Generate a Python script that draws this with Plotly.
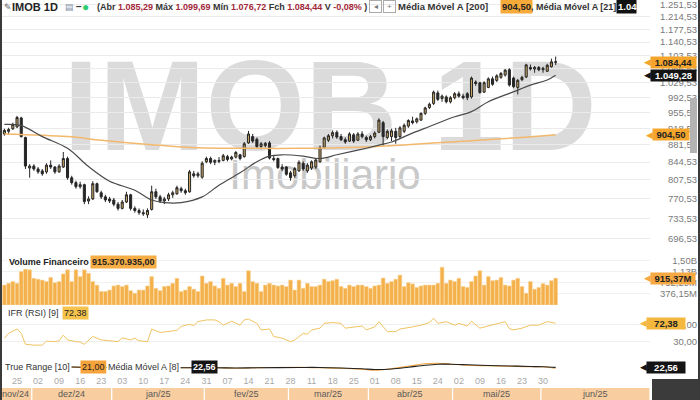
import math
import plotly.graph_objects as go

# ---------------- data ----------------
opens = [906, 912, 918, 922, 943, 898, 832, 836, 830, 826, 824, 838, 834, 824, 834, 852, 812, 802, 794, 798,
         766, 770, 800, 782, 774, 770, 768, 760, 752, 764, 778, 752, 748, 744, 740, 750, 784, 774, 766, 770,
         778, 780, 790, 786, 784, 820, 816, 813, 845, 852, 844, 848, 848, 856, 851, 855, 860, 856, 886, 900,
         894, 878, 880, 886, 852, 852, 834, 834, 822, 816, 826, 842, 826, 832, 834, 845, 876, 892, 902, 910,
         900, 893, 890, 904, 892, 906, 898, 893, 900, 910, 932, 898, 900, 912, 900, 912, 924, 936, 934, 938,
         954, 968, 978, 1004, 990, 994, 982, 992, 1002, 996, 1002, 994, 1032, 1030, 1006, 1018, 1040, 1036, 1044, 1050,
         1064, 1042, 1018, 1038, 1045, 1070, 1066, 1070, 1064, 1060, 1072, 1085.29]
highs = [918, 920, 932, 948, 946, 900, 840, 840, 834, 830, 842, 848, 836, 840, 866, 856, 816, 806, 804, 800,
         775, 805, 802, 786, 778, 774, 772, 764, 768, 784, 780, 756, 752, 750, 752, 796, 790, 778, 774, 782,
         786, 796, 794, 790, 828, 826, 824, 846, 856, 856, 850, 855, 862, 860, 858, 868, 862, 888, 913, 906,
         898, 888, 888, 890, 858, 854, 840, 836, 826, 834, 848, 846, 842, 848, 852, 880, 900, 906, 914, 914,
         906, 898, 910, 908, 910, 912, 902, 904, 912, 942, 936, 916, 918, 920, 924, 930, 940, 946, 944, 956,
         970, 980, 1010, 1010, 1000, 998, 996, 1006, 1008, 1002, 1006, 1046, 1036, 1032, 1034, 1044, 1046, 1052, 1058, 1066,
         1068, 1046, 1040, 1048, 1080, 1078, 1074, 1074, 1072, 1080, 1094, 1099.69]
lows = [902, 905, 915, 920, 898, 830, 812, 826, 820, 816, 820, 830, 820, 822, 832, 808, 798, 790, 790, 760,
        760, 768, 782, 770, 764, 762, 756, 748, 750, 762, 748, 744, 740, 738, 734, 748, 770, 762, 760, 766,
        772, 778, 782, 778, 782, 812, 812, 810, 842, 840, 838, 842, 846, 846, 848, 852, 848, 854, 884, 886,
        874, 872, 876, 850, 846, 830, 826, 816, 806, 812, 824, 826, 822, 828, 830, 843, 874, 888, 896, 895,
        890, 884, 888, 886, 890, 896, 888, 890, 896, 908, 880, 894, 890, 884, 896, 908, 920, 928, 930, 936,
        950, 964, 974, 984, 982, 978, 978, 988, 992, 988, 986, 990, 1022, 1002, 1004, 1016, 1022, 1032, 1040, 1046,
        1020, 1016, 1000, 1034, 1042, 1062, 1056, 1060, 1056, 1058, 1070, 1076.72]
closes = [914, 916, 928, 944, 900, 836, 836, 830, 824, 820, 838, 834, 824, 836, 852, 812, 802, 794, 798, 765,
          770, 800, 784, 774, 768, 766, 760, 752, 764, 778, 752, 748, 744, 742, 748, 784, 774, 766, 770, 778,
          782, 792, 786, 782, 824, 816, 820, 842, 852, 844, 848, 846, 858, 850, 855, 865, 852, 884, 906, 890,
          878, 884, 885, 853, 850, 833, 830, 819, 812, 831, 844, 830, 838, 845, 849, 876, 897, 902, 909, 899,
          893, 888, 906, 890, 906, 900, 893, 900, 908, 938, 900, 912, 913, 898, 920, 926, 937, 932, 941, 954,
          967, 976, 1006, 988, 996, 982, 992, 1002, 996, 992, 992, 1042, 1028, 1005, 1030, 1040, 1026, 1048, 1054, 1063,
          1024, 1020, 1036, 1044, 1077, 1066, 1070, 1064, 1068, 1076, 1085.3, 1084.44]

volume_bi = [0.68, 0.74, 0.80, 0.74, 1.14, 1.22, 1.20, 0.91, 0.88, 0.85,
             0.80, 0.94, 0.76, 0.80, 1.06, 1.20, 0.80, 1.20, 0.97, 1.20,
             1.08, 0.80, 0.68, 0.46, 0.46, 0.51, 0.65, 0.68, 0.63, 0.68,
             0.49, 0.40, 0.51, 0.51, 0.65, 0.97, 0.57, 0.49, 0.63, 0.65,
             0.74, 0.91, 0.46, 0.51, 0.63, 0.54, 0.46, 0.99, 0.74, 0.80,
             0.65, 0.57, 0.91, 0.68, 0.74, 0.63, 0.74, 0.46, 1.17, 0.80,
             0.74, 0.46, 0.68, 0.74, 0.68, 0.65, 0.68, 0.63, 0.85, 0.51,
             0.85, 0.57, 0.74, 0.63, 0.63, 0.68, 0.88, 0.80, 0.83, 0.88,
             0.63, 0.57, 0.68, 0.63, 0.68, 0.68, 0.63, 0.57, 0.65, 0.68,
             0.92, 0.74, 0.80, 0.88, 1.02, 0.63, 0.76, 0.72, 0.60, 0.65,
             0.68, 0.68, 0.68, 0.74, 1.29, 0.74, 0.85, 0.80, 0.91, 0.63,
             0.60, 0.80, 0.99, 1.17, 0.68, 0.97, 0.83, 0.85, 0.94, 0.68,
             0.65, 0.85, 0.91, 0.63, 0.40, 0.80, 0.54, 0.60, 0.73, 0.68,
             0.83, 0.915370935]

ma21_idx = [0, 4, 9, 15, 20, 25, 31, 35, 38, 42, 47, 51, 56, 60, 63, 66, 71, 75, 79, 84,
            89, 92, 96, 101, 107, 111, 115, 120, 122, 125, 129, 131]
ma21_val = [928, 925, 900, 874, 835, 805, 787, 768, 763, 763, 774, 797, 822, 845, 857, 860, 857, 852, 860, 870,
            881, 888, 904, 923, 946, 958, 982, 1003, 1011, 1024, 1037, 1049.28]

ma200_idx = [0, 15, 23, 35, 46, 58, 70, 82, 94, 106, 118, 131]
ma200_val = [906, 900, 892, 882, 875, 874, 874, 876, 881, 888, 895, 904.50]

rsi_idx = [0, 1, 3, 4, 5, 7, 9, 10, 12, 13, 14, 15, 17, 18, 19, 21, 23, 27, 28, 30,
           31, 32, 34, 35, 37, 39, 41, 42, 44, 45, 46, 48, 50, 51, 52, 54, 56, 57, 58, 60,
           61, 63, 64, 66, 68, 69, 71, 72, 73, 75, 76, 78, 80, 81, 83, 85, 86, 88, 89, 91,
           93, 94, 97, 99, 101, 102, 103, 105, 107, 108, 110, 111, 113, 115, 117, 119, 120, 121, 123, 125,
           127, 129, 131]
rsi_val = [38, 49, 59, 49, 24, 22, 22, 31, 30, 32, 45, 34, 30, 29, 24, 42, 34, 30, 39, 34,
           38, 32, 30, 59, 51, 53, 56, 65, 70, 67, 76, 80, 80, 76, 68, 77, 68, 80, 82, 72,
           57, 59, 42, 38, 30, 34, 49, 47, 57, 61, 72, 74, 72, 61, 64, 66, 57, 64, 76, 53,
           53, 59, 64, 68, 74, 84, 72, 76, 68, 72, 66, 77, 61, 66, 70, 76, 60, 57, 61, 68,
           68, 76, 72.38]

tr_idx = [0, 10, 20, 30, 40, 50, 55, 60, 70, 75, 80, 85, 88, 92, 96, 100, 103, 106, 110, 115, 120, 125, 128, 131]
tr_val = [23, 24, 23, 22, 22, 22.5, 21, 22, 23, 22, 21, 19, 17, 20, 25, 30, 31, 29, 27, 26, 25, 24, 24, 21.00]
tr_ma8_val = [23, 24, 23, 22.5, 22, 22, 21.5, 22, 22.5, 22.5, 21.5, 20, 18.5, 19.5, 23, 27, 29, 29, 28, 26.5,
              25.5, 24.5, 24, 22.56]

price_ticks = [696.53, 733.53, 770.53, 807.53, 844.53, 881.53, 918.53, 955.53, 992.53, 1029.53,
               1066.53, 1103.53, 1140.53, 1177.53, 1214.53, 1251.53]
vol_ticks = [0.37615, 0.75229, 1.12844, 1.50458]
rsi_ticks = [30, 70]

day_tick_idx = [3, 8, 13, 18, 23, 28, 33, 38, 43, 48, 53, 58, 63, 68, 73, 78, 83, 88, 93, 98,
                103, 108, 113, 118, 123, 128]
day_labels = ["25", "02", "09", "16", "23", "03", "10", "17", "24", "31", "07", "14", "21", "28",
              "11", "18", "25", "01", "08", "15", "24", "02", "09", "16", "23", "30"]
month_labels = ["nov/24", "dez/24", "jan/25", "fev/25", "mar/25", "abr/25", "mai/25", "jun/25"]
month_first_idx = [0, 8, 27, 49, 69, 88, 108, 129]

# ---------------- helpers ----------------
W, H = 700, 400
FONT = "Liberation Sans, Arial, sans-serif"
X_LEFT, X_RIGHT = -1.046, 153.42
XDOM = [0, 650 / W]


def br(v, d=2):
    s = f"{v:,.{d}f}"
    return s.replace(",", "X").replace(".", ",").replace("X", ".")


def vol_fmt(v):
    return br(v, 2) + "B" if v >= 1 else br(v * 1000, 2) + "M"


def py(p):
    return 1 - p / H


idx = list(range(len(closes)))

fig = go.Figure()
fig.add_trace(go.Candlestick(
    x=idx, open=opens, high=highs, low=lows, close=closes, xaxis="x", yaxis="y",
    increasing=dict(line=dict(color="#262626", width=1), fillcolor="#c4a262"),
    decreasing=dict(line=dict(color="#262626", width=1), fillcolor="#262626"),
    whiskerwidth=0, hoverinfo="skip", showlegend=False))
fig.add_trace(go.Scatter(x=ma200_idx, y=ma200_val, mode="lines", xaxis="x", yaxis="y",
                         line=dict(color="#f2b86c", width=1.5, shape="spline"), hoverinfo="skip"))
fig.add_trace(go.Scatter(x=ma21_idx, y=ma21_val, mode="lines", xaxis="x", yaxis="y",
                         line=dict(color="#4a4a4a", width=1.2, shape="spline"), hoverinfo="skip"))
fig.add_trace(go.Bar(x=idx, y=volume_bi, xaxis="x2", yaxis="y2",
                     marker=dict(color="#f4b04a", line=dict(color="#f9d395", width=0.6)), hoverinfo="skip"))
fig.add_trace(go.Scatter(x=rsi_idx, y=rsi_val, mode="lines", xaxis="x3", yaxis="y3",
                         line=dict(color="#f1c462", width=1), hoverinfo="skip"))
fig.add_trace(go.Scatter(x=tr_idx, y=tr_val, mode="lines", xaxis="x4", yaxis="y4",
                         line=dict(color="#f0a23a", width=1.2, shape="spline"), hoverinfo="skip"))
fig.add_trace(go.Scatter(x=tr_idx, y=tr_ma8_val, mode="lines", xaxis="x4", yaxis="y4",
                         line=dict(color="#222222", width=1.2, shape="spline"), hoverinfo="skip"))

common_x = dict(range=[X_LEFT, X_RIGHT], domain=XDOM, showgrid=False, zeroline=False,
                ticks="", showline=False, fixedrange=True)


def yax(dom_px, rng, tickvals, ticktext, **kw):
    d = dict(domain=[py(dom_px[1]), py(dom_px[0])], range=rng, anchor="free", position=697 / W,
             side="left", tickmode="array", tickvals=tickvals, ticktext=ticktext,
             showgrid=True, gridcolor="#ebebeb", gridwidth=1, zeroline=False, showline=False,
             ticks="", tickfont=dict(size=9.5, color="#7a7a7a", family=FONT), fixedrange=True,
             ticklabeloverflow="allow")
    d.update(kw)
    return d


fig.update_layout(
    width=W, height=H, margin=dict(l=0, r=0, t=0, b=0),
    paper_bgcolor="white", plot_bgcolor="white", showlegend=False,
    font=dict(family=FONT), bargap=0.12, boxgap=0.3,
    xaxis=dict(**common_x, anchor="y", showticklabels=False, rangeslider=dict(visible=False)),
    xaxis2=dict(**common_x, anchor="y2", showticklabels=False),
    xaxis3=dict(**common_x, anchor="y3", showticklabels=False),
    xaxis4=dict(**common_x, anchor="y4", showticklabels=True, tickmode="array",
                tickvals=day_tick_idx, ticktext=day_labels,
                tickfont=dict(size=9, color="#a8a8a8", family=FONT)),
    yaxis=yax((0, 250), [math.log10(677.6), math.log10(1267.0)], price_ticks,
              [br(v) for v in price_ticks], type="log"),
    yaxis2=yax((252, 305), [0, 1.809], vol_ticks, [vol_fmt(v) for v in vol_ticks], gridcolor="#f1f1f1"),
    yaxis3=yax((306, 356), [-3, 112], rsi_ticks, [br(v) for v in rsi_ticks], gridcolor="#efefef"),
    yaxis4=yax((357, 374), [9.5, 43.5], [], [], showgrid=False),
)

shapes = []
annotations = []

# watermark
shapes.append(dict(type="rect", xref="paper", yref="paper", x0=40 / W, x1=620 / W, y0=py(143), y1=py(43),
                   line=dict(width=0), fillcolor="rgba(0,0,0,0)", layer="below",
                   label=dict(text="IMOB 1D", textposition="middle center",
                              font=dict(size=128, color="#dbdbdb", family=FONT, weight="bold"))))
shapes.append(dict(type="rect", xref="paper", yref="paper", x0=200 / W, x1=450 / W, y0=py(190), y1=py(150),
                   line=dict(width=0), fillcolor="rgba(0,0,0,0)", layer="below",
                   label=dict(text="Imobiliario", textposition="middle center",
                              font=dict(size=42, color="#c9c9c9", family=FONT))))

# month bar
bounds = [X_LEFT] + [m - 1.5 for m in month_first_idx[1:]] + [X_RIGHT]
for k, lab in enumerate(month_labels):
    x0, x1 = bounds[k] + 0.15, bounds[k + 1] - 0.15
    shapes.append(dict(type="rect", xref="x4", yref="paper", x0=x0, x1=x1, y0=0, y1=12 / H,
                       line=dict(width=0), fillcolor="#f8cd9f", layer="above"))
    annotations.append(dict(xref="x4", yref="paper", x=(x0 + x1) / 2, y=6 / H, text=lab, showarrow=False,
                            xanchor="center", yanchor="middle", font=dict(size=9, color="#5a5a5a", family=FONT)))

# frame bits
shapes.append(dict(type="rect", xref="paper", yref="paper", x0=652 / W, x1=1, y0=0, y1=py(379),
                   line=dict(width=0), fillcolor="#3b3b3b", layer="above"))
shapes.append(dict(type="line", xref="paper", yref="paper", x0=1 / W, x1=1 / W, y0=0, y1=1,
                   line=dict(color="#3a3a3a", width=2), layer="above"))
shapes.append(dict(type="line", xref="paper", yref="paper", x0=699 / W, x1=699 / W, y0=0, y1=1,
                   line=dict(color="#3a3a3a", width=2), layer="above"))
shapes.append(dict(type="rect", xref="paper", yref="paper", x0=690 / W, x1=697 / W, y0=py(153), y1=py(98),
                   line=dict(width=0), fillcolor="#b3b3b3", layer="above"))


def txt(xpx, ypx, text, size=9, color="#222", bg=None, xanchor="left", width=None, height=None,
        border=None):
    d = dict(xref="paper", yref="paper", x=xpx / W, y=py(ypx), text=text,
             showarrow=False, xanchor=xanchor, yanchor="middle", borderpad=1,
             font=dict(size=size, color=color, family=FONT))
    if bg:
        d["bgcolor"] = bg
    if width:
        d["width"] = width
        d["align"] = "center"
    if height:
        d["height"] = height
    if border:
        d["bordercolor"] = border
        d["borderwidth"] = 1
    annotations.append(d)


# header
red = "#a3283a"
last_o, last_h, last_l, last_c = opens[-1], highs[-1], lows[-1], closes[-1]
pct = (closes[-1] / closes[-2] - 1) * 100
hdr = (f"<b>(Abr <span style='color:{red}'>{br(last_o)}</span> Máx <span style='color:{red}'>{br(last_h)}</span>"
       f" Mín <span style='color:{red}'>{br(last_l)}</span> Fch <span style='color:{red}'>{br(last_c)}</span>"
       f" V <span style='color:{red}'>{br(pct)}%</span> )</b>")
txt(2, 7, "✎", size=9, color="#555")
txt(10, 7, "<b>IMOB 1D</b>", size=11, color="#222")
txt(63, 7, "▤", size=9, color="#8090a8")
txt(74, 7, "<b>−</b>", size=10, color="#333")
txt(80, 7, "●", size=12, color="#2dcc70")
txt(95, 7, hdr, size=9, color="#333")
txt(369, 7, "◂", size=8, color="#777", border="#aaaaaa", width=9, height=9)
txt(383, 7, "+", size=8, color="#777", border="#aaaaaa", width=9, height=9)
txt(396, 7, "<b>Média Móvel A [200]</b>", size=9.5, color="#333")
txt(500, 7, f"<b>{br(ma200_val[-1])}</b>", size=9.5, color="#222", bg="#f6aa3a")
txt(529, 7, "<b>, Média Móvel A [21]</b>", size=9, color="#333")
txt(616, 7, f"<b>{br(ma21_val[-1])}</b>", size=9.5, color="white", bg="#111111")
txt(636, 7, " ", size=9, bg="white", width=18, height=13)

# panel labels
txt(7, 262, "<b>Volume Financeiro</b>", size=9, color="#222", bg="white")
txt(90, 262, f"<b>{br(volume_bi[-1] * 1e9)}</b>", size=9, color="#222", bg="#f6ad45")
txt(6, 313, "IFR (RSI) [9]", size=9, color="#333")
txt(62, 313, br(rsi_val[-1]), size=9, color="#222", bg="#f5c24c")
txt(3, 367, "True Range [10]", size=9, color="#333", bg="white")
txt(80, 367, br(tr_val[-1]), size=9, color="#222", bg="#f5a33a")
txt(106, 367, "Média Móvel A [8]", size=9, color="#333", bg="white")
txt(191, 367, f"<b>{br(tr_ma8_val[-1])}</b>", size=9, color="white", bg="#151515")


# right badges
def badge(val_text, yref, yval, bg, fg, right_px, width):
    left_px = right_px - width
    annotations.append(dict(xref="paper", yref=yref, x=(left_px + 1) / W, y=yval, text="◀", showarrow=False,
                            xanchor="right", yanchor="middle", font=dict(size=9, color=bg, family="DejaVu Sans")))
    annotations.append(dict(xref="paper", yref=yref, x=right_px / W, y=yval, text=f"<b>{val_text}</b>",
                            showarrow=False, xanchor="right", yanchor="middle", bgcolor=bg, width=width,
                            height=11, align="center", borderpad=0,
                            font=dict(size=9.5, color=fg, family=FONT)))


badge(br(closes[-1]), "y", math.log10(closes[-1]), "#f6a52c", "#222", 697, 45)
badge(br(ma21_val[-1]), "y", math.log10(ma21_val[-1]), "#141414", "white", 697, 45)
badge(br(ma200_val[-1]), "y", math.log10(ma200_val[-1]), "#f6a52c", "#222", 690, 36)
badge(vol_fmt(volume_bi[-1]), "y2", volume_bi[-1], "#f6a843", "#222", 696, 44)
badge(br(rsi_val[-1]), "y3", rsi_val[-1], "#f5b83f", "#222", 686, 38)
badge(br(tr_ma8_val[-1]), "y4", tr_ma8_val[-1], "#141414", "white", 686, 38)

fig.update_layout(shapes=shapes, annotations=annotations)
fig.write_html("out.html", config={"displayModeBar": False, "staticPlot": True},
               post_script="document.body.style.margin='0';document.body.style.overflow='hidden';")
